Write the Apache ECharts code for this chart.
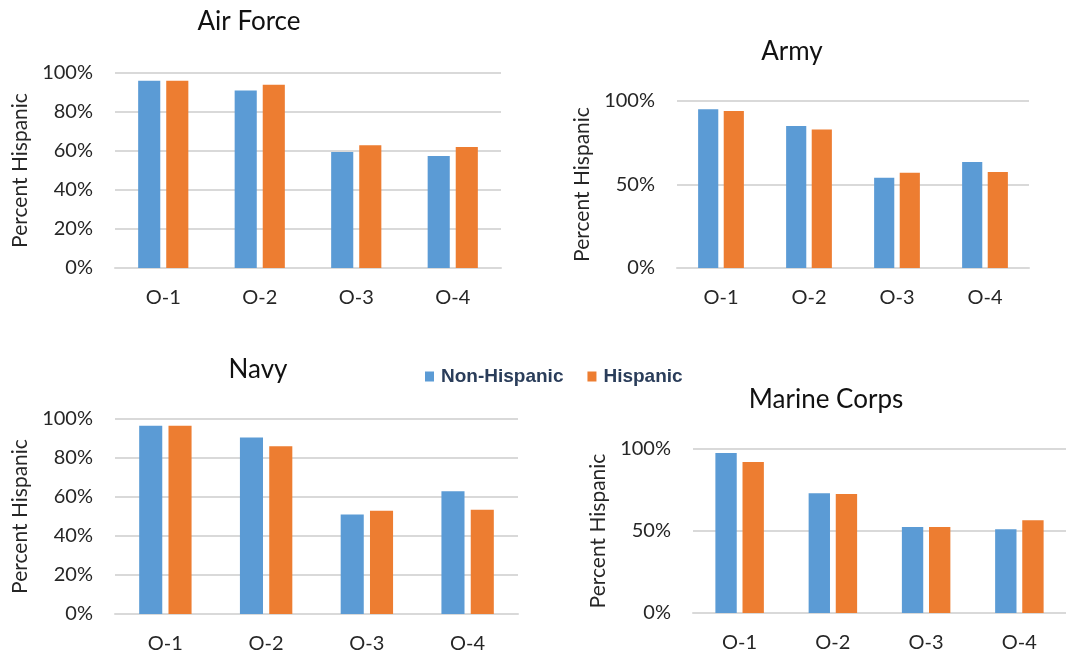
<!DOCTYPE html>
<html>
<head>
<meta charset="utf-8">
<script src="https://cdn.jsdelivr.net/npm/echarts@6/dist/echarts.min.js"></script>
<style>
  html, body { margin: 0; padding: 0; background: #ffffff; }
  #chart { width: 1066px; height: 656px; }
</style>
</head>
<body>
<div id="chart"></div>
<script>
// Officer ranks shown on every panel
const ranks = ['O-1', 'O-2', 'O-3', 'O-4'];
const seriesNames = ['Non-Hispanic', 'Hispanic'];

// Percent values per service branch
const airForceNonHispanic = [96, 91, 59.5, 57.5];
const airForceHispanic = [96, 94, 63, 62];
const armyNonHispanic = [95, 85, 54, 63.5];
const armyHispanic = [94, 83, 57, 57.5];
const navyNonHispanic = [96.5, 90.5, 51, 63];
const navyHispanic = [96.5, 86, 53, 53.5];
const marineNonHispanic = [97.5, 73, 52.5, 51];
const marineHispanic = [92, 72.5, 52.5, 56.5];

const branchTitles = ['Air Force', 'Army', 'Navy', 'Marine Corps'];
const yIntervals = [20, 50, 20, 50];

const panels = [
  { title: branchTitles[0], nonHisp: airForceNonHispanic, hisp: airForceHispanic, interval: yIntervals[0],
    grid: { left: 115, right: 565, top: 73, bottom: 388 }, titlePos: [244, 4] },
  { title: branchTitles[1], nonHisp: armyNonHispanic, hisp: armyHispanic, interval: yIntervals[1],
    grid: { left: 677, right: 37, top: 101, bottom: 388 }, titlePos: [787, 34] },
  { title: branchTitles[2], nonHisp: navyNonHispanic, hisp: navyHispanic, interval: yIntervals[2],
    grid: { left: 115, right: 548, top: 419, bottom: 42 }, titlePos: [253, 352] },
  { title: branchTitles[3], nonHisp: marineNonHispanic, hisp: marineHispanic, interval: yIntervals[3],
    grid: { left: 693, right: -13, top: 449, bottom: 43 }, titlePos: [821, 382] }
];

const FONT = 'Lato';
const AXIS_COLOR = '#262626';
const GRID_COLOR = '#D9D9D9';
const BLUE = '#5B9BD5';
const ORANGE = '#ED7D31';

const grids = [], xAxes = [], yAxes = [], series = [], titles = [];

panels.forEach((p, i) => {
  grids.push(Object.assign({ containLabel: false }, p.grid));
  titles.push({
    text: p.title,
    left: p.titlePos[0],
    top: p.titlePos[1],
    textAlign: 'center',
    textStyle: { fontFamily: FONT, fontSize: 26, fontWeight: 'normal', color: '#111111' }
  });
  xAxes.push({
    type: 'category',
    gridIndex: i,
    data: ranks,
    axisTick: { show: false },
    axisLine: { show: true, lineStyle: { color: GRID_COLOR, width: 2 } },
    axisLabel: { margin: 20, fontFamily: FONT, fontSize: 20, color: AXIS_COLOR }
  });
  yAxes.push({
    type: 'value',
    gridIndex: i,
    min: 0,
    max: 100,
    interval: p.interval,
    name: 'Percent Hispanic',
    nameLocation: 'middle',
    nameRotate: 90,
    nameGap: 84,
    nameTextStyle: { fontFamily: FONT, fontSize: 21, color: AXIS_COLOR },
    axisLine: { show: false },
    axisTick: { show: false },
    splitLine: { show: true, lineStyle: { color: GRID_COLOR, width: 2 } },
    axisLabel: { margin: 22, fontFamily: FONT, fontSize: 20, color: AXIS_COLOR, formatter: '{value}%' }
  });
  series.push({
    name: seriesNames[0], type: 'bar', xAxisIndex: i, yAxisIndex: i,
    data: p.nonHisp, itemStyle: { color: BLUE },
    barCategoryGap: '48%', barGap: '27%'
  });
  series.push({
    name: seriesNames[1], type: 'bar', xAxisIndex: i, yAxisIndex: i,
    data: p.hisp, itemStyle: { color: ORANGE },
    barCategoryGap: '48%', barGap: '27%'
  });
});

const chart = echarts.init(document.getElementById('chart'), null, { renderer: 'canvas' });
chart.setOption({
  backgroundColor: '#ffffff',
  animation: false,
  title: titles,
  legend: {
    data: seriesNames,
    left: 420,
    top: 362,
    icon: 'rect',
    itemWidth: 9,
    itemHeight: 10,
    itemGap: 24,
    textStyle: {
      fontFamily: 'Liberation Sans',
      fontSize: 19,
      fontWeight: 'bold',
      color: '#2A3D5A',
      padding: [0, 0, 0, 2]
    }
  },
  grid: grids,
  xAxis: xAxes,
  yAxis: yAxes,
  series: series
});
</script>
</body>
</html>
